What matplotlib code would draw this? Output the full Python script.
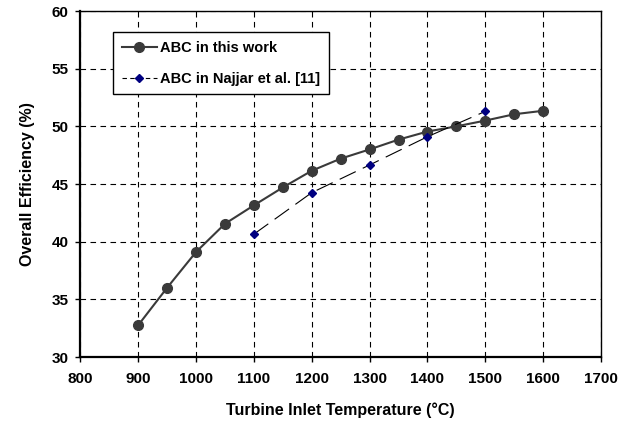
import matplotlib
matplotlib.use("Agg")
import matplotlib.pyplot as plt

plt.rcParams['font.family'] = ['Liberation Sans', 'DejaVu Sans']
plt.rcParams['font.weight'] = 'bold'
plt.rcParams['axes.labelweight'] = 'bold'

# data
temp_this = [900, 950, 1000, 1050, 1100, 1150, 1200, 1250, 1300, 1350, 1400, 1450, 1500, 1550, 1600]
eff_this = [32.75, 36.0, 39.1, 41.55, 43.15, 44.7, 46.15, 47.2, 48.0, 48.85, 49.55, 50.0, 50.5, 51.05, 51.35]

temp_najjar = [1100, 1200, 1300, 1400, 1500]
eff_najjar = [40.65, 44.25, 46.65, 49.1, 51.3]

xticks = list(range(800, 1701, 100))
yticks = list(range(30, 61, 5))

fig = plt.figure(figsize=(6.32, 4.24), dpi=100)
ax = fig.add_axes([0.127, 0.158, 0.824, 0.816])

ax.plot(temp_this, eff_this, color='#3a3a3a', lw=1.5, marker='o', ms=7,
        mfc='#3a3a3a', mec='#3a3a3a', label='ABC in this work', zorder=3)
ax.plot(temp_najjar, eff_najjar, color='black', lw=0.8, ls=(0, (16, 7)),
        marker='D', ms=4.5, mfc='#000080', mec='#000080',
        label='ABC in Najjar et al. [11]', zorder=4)

ax.set_xlim(800, 1700)
ax.set_ylim(30, 60)
ax.set_xticks(xticks, [str(t) for t in xticks], fontweight='bold')
ax.set_yticks(yticks, [str(t) for t in yticks], fontweight='bold')
ax.grid(True, color='black', ls=(0, (5, 4)), lw=0.8)

for side in ['left', 'bottom']:
    ax.spines[side].set_linewidth(1.6)
for side in ['top', 'right']:
    ax.spines[side].set_linewidth(1.0)

ax.tick_params(axis='both', direction='out', length=3.6, width=1, labelsize=11)
ax.tick_params(axis='x', pad=7)
ax.tick_params(axis='y', pad=5)

ax.set_xlabel('Turbine Inlet Temperature (°C)', fontsize=11.5, fontweight='bold', labelpad=12)
ax.set_ylabel('Overall Efficiency (%)', fontsize=11.5, fontweight='bold', labelpad=12)

leg = ax.legend(loc='upper left', bbox_to_anchor=(0.063, 0.939), borderaxespad=0,
                fancybox=False, edgecolor='black', framealpha=1,
                prop={'size': 10.5, 'weight': 'bold'},
                handlelength=2.4, borderpad=0.6, labelspacing=1.15, handletextpad=0.25)
leg.get_frame().set_linewidth(1.0)
leg.get_lines()[1].set_linestyle((0, (4, 3)))

fig.savefig('out.png', dpi=100)
